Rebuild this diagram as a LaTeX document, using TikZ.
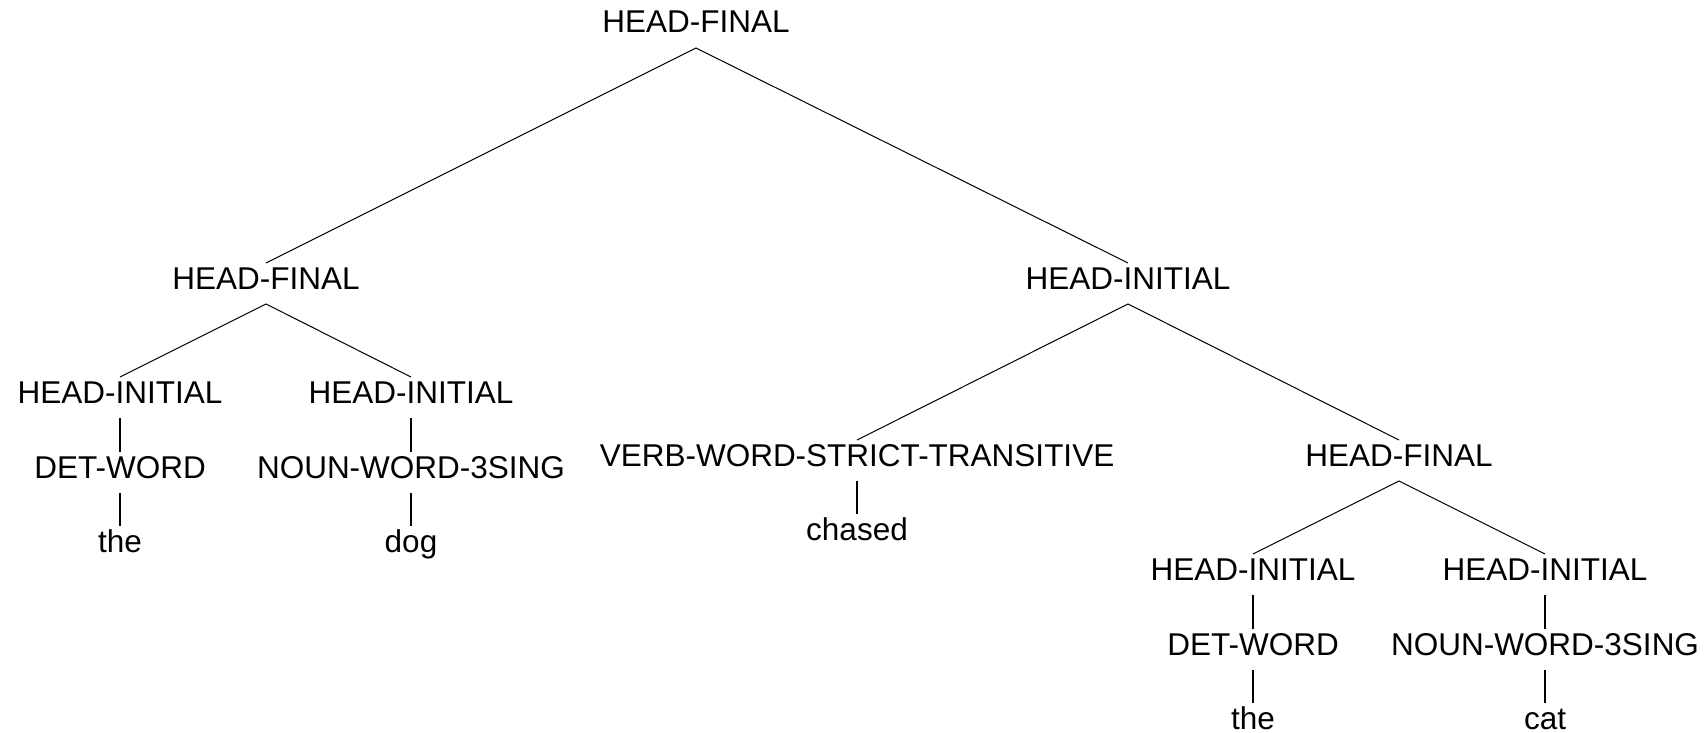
\documentclass[tikz,border=0pt]{standalone}
\usepackage{fontspec}
\setmainfont{Liberation Sans}
\usepackage{tikz}
\usetikzlibrary{positioning}

\begin{document}
\begin{tikzpicture}[x=1pt, y=-1pt, outer sep=0pt]
          \newcommand{\capgap}{26pt}
          \newcommand{\footgap}{15pt}

          \tikzstyle{cat}=[
            draw=none,
            inner sep=0pt,
            anchor=base,
            text height=\capgap,
            text depth=\footgap,
            font=\fontsize{31.5}{36}\selectfont
          ]
          \tikzstyle{branch} = [line width=1pt, draw=black]
          \tikzstyle{unary} = [line width=1.3pt, draw=black]

          \useasboundingbox (0,0) rectangle (1707,733);

          % upper levels
          \node[cat] (root) at (696,33) {HEAD-FINAL};
          \node[cat] (hfa) at (266,289) {HEAD-FINAL};
          \node[cat] (hib) at (1128,289) {HEAD-INITIAL};

          % left subtree
          \node[cat] (hia) at (120,403) {HEAD-INITIAL};
          \node[cat] (deta) at (120,478) {DET-WORD};
          \node[cat] (thea) at (120,552) {the};
          \node[cat] (hic) at (411,403) {HEAD-INITIAL};
          \node[cat] (nouna) at (411,478) {NOUN-WORD-3SING};
          \node[cat] (dog) at (411,552) {dog};

          % right subtree
          \node[cat] (verb) at (857,466) {VERB-WORD-STRICT-TRANSITIVE};
          \node[cat] (chased) at (857,540) {chased};
          \node[cat] (hfb) at (1399,466) {HEAD-FINAL};
          \node[cat] (hid) at (1253,580) {HEAD-INITIAL};
          \node[cat] (detb) at (1253,655) {DET-WORD};
          \node[cat] (theb) at (1253,729) {the};
          \node[cat] (hie) at (1545,580) {HEAD-INITIAL};
          \node[cat] (nounb) at (1545,655) {NOUN-WORD-3SING};
          \node[cat] (cat) at (1545,729) {cat};

          \draw[branch] (hfa.north) -- (root.south) -- (hib.north);
          \draw[branch] (hia.north) -- (hfa.south) -- (hic.north);
          \draw[branch] (verb.north) -- (hib.south) -- (hfb.north);
          \draw[branch] (hid.north) -- (hfb.south) -- (hie.north);

          \draw[unary] (hia) -- (deta);
          \draw[unary] (deta) -- (thea);
          \draw[unary] (hic) -- (nouna);
          \draw[unary] (nouna) -- (dog);
          \draw[unary] (verb) -- (chased);
          \draw[unary] (hid) -- (detb);
          \draw[unary] (detb) -- (theb);
          \draw[unary] (hie) -- (nounb);
          \draw[unary] (nounb) -- (cat);

        \end{tikzpicture}
\end{document}
